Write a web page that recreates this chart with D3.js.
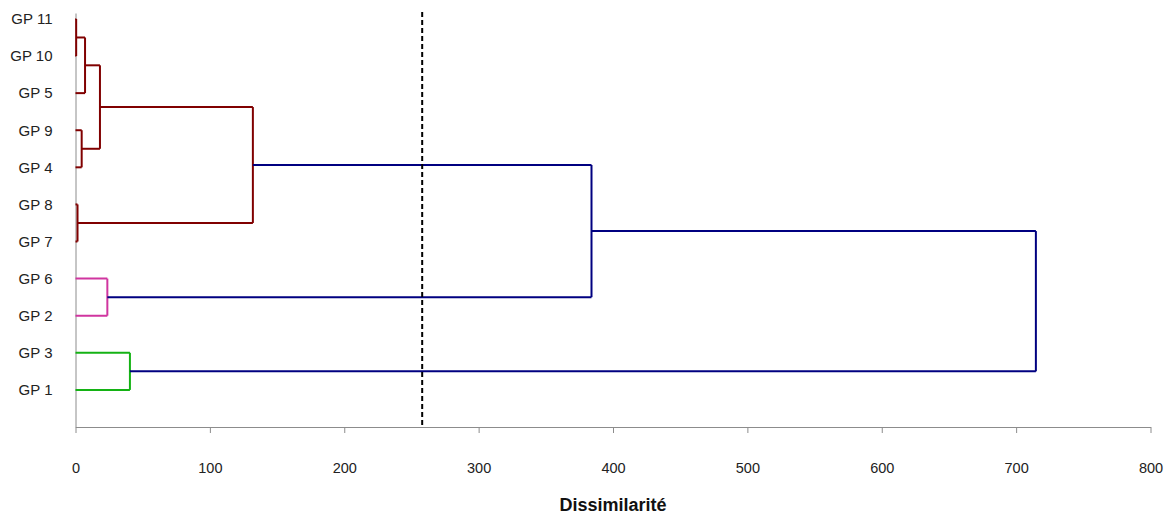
<!DOCTYPE html>
<html><head><meta charset="utf-8">
<script src="https://cdn.jsdelivr.net/npm/d3@7"></script>
<style>body{margin:0;background:#fff}</style>
</head><body><svg id="c" width="1168" height="516"></svg>
<script>
// Leaves, bottom to top
const leafLabels = ["GP 1","GP 3","GP 2","GP 6","GP 7","GP 8","GP 4","GP 9","GP 5","GP 10","GP 11"];
const leafPos = [1,2,3,4,5,6,7,8,9,10,11];
const leafGroup = ["green","green","pink","pink","red","red","red","red","red","red","red"];
// Linkage: node ids 0-10 are leaves, 11+ are merges in order
const mergeA = [9, 4, 6, 11, 13, 2, 0, 12, 16, 17];
const mergeB = [10, 5, 7, 8, 14, 3, 1, 15, 18, 19];
const mergeHeight = [0.5, 1.5, 4.6, 7.1, 18.2, 23.7, 40.5, 132, 384, 714.7];
const mergeGroup = ["red","red","red","red","red","pink","green","red","blue","blue"];
const cutLevel = 258;
const xTicks = [0,100,200,300,400,500,600,700,800];
const groupColor = {red:"#800000", pink:"#d0359f", green:"#14b214", blue:"#000080"};

const svg = d3.select("#c");
const x = d3.scaleLinear().domain([0,800]).range([75.5,1150.5]);
const y = d3.scaleLinear().domain([0,11.16]).range([427,13]);
const font = "'Liberation Sans', Arial, sans-serif";

// axes
const gx = svg.append("g").attr("transform","translate(0,427)")
  .call(d3.axisBottom(x).tickValues(xTicks).tickSize(6).tickSizeOuter(0).tickPadding(30));
gx.selectAll("path,line").attr("stroke","#8c8c8c").attr("stroke-width",1);
gx.selectAll("text").attr("font-family",font).attr("font-size",14.5).attr("fill","#222");

const gy = svg.append("g").attr("transform","translate(75.5,0)")
  .call(d3.axisLeft(y).tickValues(leafPos).tickFormat(p => leafLabels[p-1]).tickSize(0).tickSizeOuter(0).tickPadding(23));
gy.selectAll("path").attr("stroke","#8c8c8c").attr("stroke-width",1);
gy.selectAll("text").attr("font-family",font).attr("font-size",15).attr("fill","#222");

svg.append("text").attr("x",613).attr("y",511).attr("text-anchor","middle")
  .attr("font-family",font).attr("font-weight","bold").attr("font-size",18).attr("fill","#111")
  .text("Dissimilarité");

// dendrogram
const nodeY = leafPos.slice();
const nodeH = leafPos.map(() => 0);
const lines = svg.append("g").attr("fill","none").attr("stroke-width",2);
mergeA.forEach((a, i) => {
  const b = mergeB[i], h = mergeHeight[i], col = groupColor[mergeGroup[i]];
  [a, b].forEach(c => {
    lines.append("line").attr("x1", x(nodeH[c])).attr("x2", x(h))
      .attr("y1", y(nodeY[c])).attr("y2", y(nodeY[c])).attr("stroke", col);
  });
  lines.append("line").attr("x1", x(h)).attr("x2", x(h))
    .attr("y1", y(nodeY[a])).attr("y2", y(nodeY[b])).attr("stroke", col);
  nodeY.push((nodeY[a] + nodeY[b]) / 2);
  nodeH.push(h);
});

// cut line
svg.append("line").attr("x1", x(cutLevel)).attr("x2", x(cutLevel))
  .attr("y1", 12).attr("y2", 427).attr("stroke","#000").attr("stroke-width",2)
  .attr("stroke-dasharray","5,3");
</script></body></html>
